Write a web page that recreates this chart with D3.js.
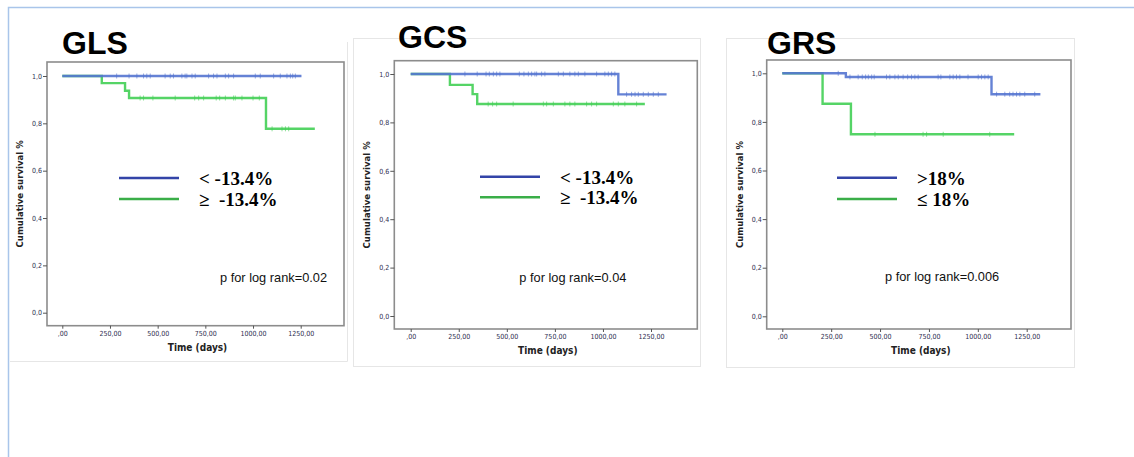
<!DOCTYPE html>
<html>
<head>
<meta charset="utf-8">
<script src="https://cdn.jsdelivr.net/npm/d3@7"></script>
<style>
  body { margin: 0; background: #fff; }
  svg text { white-space: pre; }
</style>
</head>
<body>
<div id="chart"></div>
<script>
// chart values
var titles = ["GLS", "GCS", "GRS"];
var pLabels = ["p for log rank=0.02", "p for log rank=0.04", "p for log rank=0.006"];
var legendBlue = ["< -13.4%", "< -13.4%", ">18%"];
var legendGreen = ["\u2265  -13.4%", "\u2265  -13.4%", "\u2264 18%"];
var xTicks = [0, 250, 500, 750, 1000, 1250];
var yTicks = [0, 0.2, 0.4, 0.6, 0.8, 1.0];

// step curves: [time, survival] at each drop, plus last follow-up time
var glsBlueSteps = [[0, 1.0]];
var glsBlueEnd = 1254;
var glsBlueCensor = [285, 350, 391, 426, 443, 461, 539, 566, 583, 627, 644, 653, 680, 697, 767, 793, 811, 855, 872, 898, 1012, 1038, 1108, 1143, 1178, 1196, 1208, 1222];
var glsGreenSteps = [[0, 1.0], [207, 0.970], [329, 0.938], [350, 0.907], [1068, 0.777]];
var glsGreenEnd = 1324;
var glsGreenCensor = [408, 426, 475, 592, 694, 715, 741, 807, 825, 855, 898, 907, 942, 1000, 1033, 1100, 1152, 1170, 1187];

var gcsBlueSteps = [[0, 1.0], [1080, 0.916]];
var gcsBlueEnd = 1331;
var gcsBlueCensor = [282, 346, 392, 409, 430, 447, 464, 565, 589, 612, 629, 646, 655, 681, 698, 768, 794, 828, 854, 872, 906, 967, 1010, 1028, 1045, 1062, 1123, 1149, 1167, 1184, 1210, 1236, 1262, 1288];
var gcsGreenSteps = [[0, 1.0], [204, 0.955], [322, 0.917], [346, 0.876]];
var gcsGreenEnd = 1218;
var gcsGreenCensor = [403, 426, 447, 533, 690, 707, 742, 802, 828, 854, 915, 941, 967, 1054, 1080, 1114, 1175];

var grsBlueSteps = [[0, 1.0], [325, 0.985], [1070, 0.914]];
var grsBlueEnd = 1320;
var grsBlueCensor = [286, 346, 388, 409, 426, 440, 457, 470, 533, 550, 576, 593, 618, 641, 661, 678, 695, 797, 811, 857, 874, 891, 908, 950, 1002, 1019, 1036, 1053, 1096, 1138, 1163, 1180, 1198, 1215, 1240, 1291];
var grsGreenSteps = [[0, 1.0], [206, 0.875], [351, 0.749]];
var grsGreenEnd = 1186;
var grsGreenCensor = [474, 720, 738, 823, 1061];

var curves = [
  { blue: [glsBlueSteps, glsBlueEnd, glsBlueCensor], green: [glsGreenSteps, glsGreenEnd, glsGreenCensor] },
  { blue: [gcsBlueSteps, gcsBlueEnd, gcsBlueCensor], green: [gcsGreenSteps, gcsGreenEnd, gcsGreenCensor] },
  { blue: [grsBlueSteps, grsBlueEnd, grsBlueCensor], green: [grsGreenSteps, grsGreenEnd, grsGreenCensor] }
];

// page layout of each panel (pixels)
var layout = [
  { card: [10, 9, 347, 361], box: [47, 62, 344, 325.7], x: [62.3, 300.7], y: [312.7, 76],
    title: [62, 54], legend: [119, 178, 199], p: [220, 281.7], ytitle: 20, open: true },
  { card: [353, 38, 700, 366], box: [394.3, 60.7, 697.3, 329], x: [410.7, 651], y: [316, 74],
    title: [398, 48], legend: [480, 176.7, 197.3], p: [519.3, 281.7], ytitle: 367 },
  { card: [726, 38, 1074, 367], box: [766.7, 60, 1071, 329], x: [782.3, 1026.7], y: [316.3, 73.3],
    title: [767, 54], legend: [837, 177.7, 199], p: [885, 280.7], ytitle: 740 }
];

var blueCol = "#5474d0", greenCol = "#43cf55";
var legBlue = "#3344a8", legGreen = "#3aae48";

var svg = d3.select("#chart")
    .append("svg")
    .attr("width", 1134)
    .attr("height", 457);

// outer frame
svg.append("path")
    .attr("d", "M8.5,457 L8.5,7.5 L1134,7.5")
    .attr("fill", "none")
    .attr("stroke", "#a9c5ea")
    .attr("stroke-width", 1.5);

function survAt(steps, t) {
  var s = steps[0][1];
  steps.forEach(function(d) { if (d[0] <= t) s = d[1]; });
  return s;
}

layout.forEach(function(L, i) {
  var g = svg.append("g");

  // card behind each panel (first one only shows right and bottom edges)
  if (L.open) {
    g.append("path")
        .attr("d", "M" + (L.card[2] + 0.5) + "," + (L.card[1] + 33) + " L" + (L.card[2] + 0.5) + "," + (L.card[3] + 0.5) +
          " L" + L.card[0] + "," + (L.card[3] + 0.5))
        .attr("fill", "none")
        .attr("stroke", "#e6e6e6");
  } else {
    g.append("rect")
        .attr("x", L.card[0] + 0.5).attr("y", L.card[1] + 0.5)
        .attr("width", L.card[2] - L.card[0]).attr("height", L.card[3] - L.card[1])
        .attr("fill", "#fff")
        .attr("stroke", "#e6e6e6");
  }

  var x = d3.scaleLinear().domain([0, 1250]).range(L.x);
  var y = d3.scaleLinear().domain([0, 1]).range(L.y);

  // plot box
  g.append("rect")
      .attr("x", L.box[0]).attr("y", L.box[1])
      .attr("width", L.box[2] - L.box[0]).attr("height", L.box[3] - L.box[1])
      .attr("fill", "#fff")
      .attr("stroke", "#8c8c8c")
      .attr("stroke-width", 1.6);

  // y axis
  var yAxis = g.append("g")
      .attr("transform", "translate(" + L.box[0] + ",0)")
      .call(d3.axisLeft(y).tickValues(yTicks).tickSize(4).tickPadding(1)
        .tickFormat(function(d) { return d3.format(".1f")(d).replace(".", ","); }));
  // x axis
  var xAxis = g.append("g")
      .attr("transform", "translate(0," + L.box[3] + ")")
      .call(d3.axisBottom(x).tickValues(xTicks).tickSize(3).tickPadding(2)
        .tickFormat(function(d) { return d === 0 ? ",00" : d + ",00"; }));
  [yAxis, xAxis].forEach(function(a) {
    a.select(".domain").remove();
    a.selectAll(".tick line").attr("stroke", "#555");
    a.selectAll(".tick text")
        .attr("fill", "#2e2e50")
        .style("font-family", "DejaVu Sans Condensed, DejaVu Sans")
        .style("font-size", "7px");
  });

  // axis titles
  g.append("text")
      .attr("x", (L.box[0] + L.box[2]) / 2 + 2).attr("y", L.box[3] + 25)
      .attr("text-anchor", "middle")
      .style("font-family", "DejaVu Sans Condensed, DejaVu Sans")
      .style("font-weight", "bold").style("font-size", "10px")
      .attr("fill", "#222")
      .text("Time (days)");
  g.append("text")
      .attr("transform", "translate(" + (L.ytitle + 3) + "," + ((L.box[1] + L.box[3]) / 2) + ") rotate(-90)")
      .attr("text-anchor", "middle")
      .style("font-family", "DejaVu Sans Condensed, DejaVu Sans")
      .style("font-weight", "bold").style("font-size", "9.5px")
      .attr("fill", "#222")
      .text("Cumulative survival %");

  // curves
  var line = d3.line()
      .x(function(d) { return x(d[0]); })
      .y(function(d) { return y(d[1]); })
      .curve(d3.curveStepAfter);

  [["green", greenCol], ["blue", blueCol]].forEach(function(c) {
    var steps = curves[i][c[0]][0], end = curves[i][c[0]][1], cens = curves[i][c[0]][2];
    var pts = steps.concat([[end, steps[steps.length - 1][1]]]);
    g.append("path")
        .attr("d", line(pts))
        .attr("fill", "none")
        .attr("stroke", c[1])
        .attr("stroke-width", 2.4)
        .attr("opacity", 0.9);
    g.selectAll(".cens-" + c[0])
        .data(cens)
        .enter()
        .append("line")
        .attr("x1", function(d) { return x(d); })
        .attr("x2", function(d) { return x(d); })
        .attr("y1", function(d) { return y(survAt(steps, d)) - 2.5; })
        .attr("y2", function(d) { return y(survAt(steps, d)) + 2.5; })
        .attr("stroke", c[1])
        .attr("stroke-width", 1)
        .attr("opacity", 0.6);
  });

  // panel title
  g.append("text")
      .attr("x", L.title[0]).attr("y", L.title[1])
      .style("font-family", "Liberation Sans, Arial")
      .style("font-weight", "bold").style("font-size", "32px")
      .attr("fill", "#000")
      .text(titles[i]);

  // legend
  [[L.legend[1], legBlue, legendBlue[i]], [L.legend[2], legGreen, legendGreen[i]]].forEach(function(r) {
    g.append("line")
        .attr("x1", L.legend[0]).attr("x2", L.legend[0] + 60)
        .attr("y1", r[0]).attr("y2", r[0])
        .attr("stroke", r[1])
        .attr("stroke-width", 2.5);
    g.append("text")
        .attr("x", L.legend[0] + 80).attr("y", r[0] + 7)
        .style("font-family", "Liberation Serif, Times New Roman")
        .style("font-weight", "bold").style("font-size", "19px")
        .attr("fill", "#000")
        .text(r[2]);
  });

  g.append("text")
      .attr("x", L.p[0]).attr("y", L.p[1])
      .style("font-family", "Liberation Sans, Arial")
      .style("font-size", "12.8px")
      .attr("fill", "#111")
      .text(pLabels[i]);
});
</script>
</body>
</html>
